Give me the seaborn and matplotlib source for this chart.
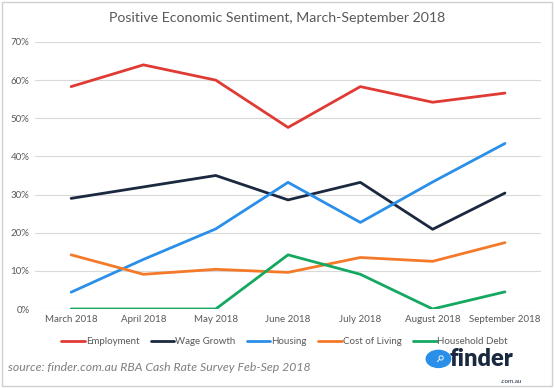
import pandas as pd
import matplotlib.pyplot as plt
import seaborn as sns
from matplotlib.patches import Rectangle, Circle

months = ['March 2018', 'April 2018', 'May 2018', 'June 2018',
          'July 2018', 'August 2018', 'September 2018']

employment = [58.3, 64.0, 60.0, 47.6, 58.3, 54.2, 56.6]
wage_growth = [29.0, 32.0, 35.0, 28.6, 33.2, 20.9, 30.4]
housing = [4.4, 13.0, 21.0, 33.2, 22.7, 33.3, 43.4]
cost_of_living = [14.2, 9.1, 10.4, 9.6, 13.5, 12.5, 17.4]
household_debt = [0.0, 0.0, 0.0, 14.2, 9.1, 0.0, 4.5]

series = ['Employment', 'Wage Growth', 'Housing', 'Cost of Living', 'Household Debt']
colors = ['#e03a34', '#1b2940', '#2a8fe8', '#f47a2a', '#15a860']

rows = []
for name, vals in zip(series, [employment, wage_growth, housing, cost_of_living, household_debt]):
    for i, v in enumerate(vals):
        rows.append({'month': i, 'series': name, 'value': v})
df = pd.DataFrame(rows)

sns.set_style('white')
plt.rcParams['font.family'] = ['Lato', 'DejaVu Sans']

fig = plt.figure(figsize=(5.55, 3.88), dpi=100)
ax = fig.add_axes([0.063, 0.2036, 0.912, 0.6882])

sns.lineplot(data=df, x='month', y='value', hue='series', hue_order=series,
             palette=colors, linewidth=2, ax=ax, legend=False)

ax.set_xlim(-0.5, 6.5)
ax.set_ylim(0, 70)
ax.set_yticks(range(0, 71, 10))
ax.set_yticklabels([f'{t}%' for t in range(0, 71, 10)], fontsize=7, color='#595959')
ax.set_xticks(range(len(months)))
ax.set_xticklabels(months, fontsize=7, color='#595959')
ax.tick_params(axis='both', length=0, pad=4)
ax.yaxis.grid(True, color='#d9d9d9', linewidth=0.8)
ax.set_axisbelow(True)
for s in ax.spines.values():
    s.set_visible(False)
ax.set_xlabel('')
ax.set_ylabel('')

handles = [plt.Line2D([0], [0], color=c, lw=2) for c in colors]
fig.legend(handles, series, loc='center', bbox_to_anchor=(0.513, 0.12), ncol=5,
           frameon=False, fontsize=7, handlelength=2.4, handletextpad=0.1,
           columnspacing=1.2, labelcolor='#595959')

fig.text(0.5, 0.953, 'Positive Economic Sentiment, March-September 2018',
         ha='center', va='center', fontsize=10.2, color='#595959')
fig.text(0.015, 0.052, 'source: finder.com.au RBA Cash Rate Survey Feb-Sep 2018',
         ha='left', va='center', fontsize=8.8, style='italic', color='#7f7f7f')

# finder logo
fig.patches.append(Circle((0.79, 0.075), 0.022, transform=fig.transFigure,
                          color='#2a8fe8', zorder=3))
fig.text(0.79, 0.075, '⚲', ha='center', va='center', fontsize=7,
         color='white', fontweight='bold', rotation=-45, family='DejaVu Sans')
fig.text(0.81, 0.076, 'finder', ha='left', va='center', fontsize=17,
         fontweight='heavy', color='#1b2940')
fig.text(0.94, 0.018, '.com.au', ha='right', va='center', fontsize=4.5,
         color='#1b2940')

fig.patches.append(Rectangle((0.003, 0.005), 0.992, 0.99, transform=fig.transFigure,
                             fill=False, edgecolor='#d0d0d0', linewidth=1))

fig.savefig('out.png', dpi=100)
